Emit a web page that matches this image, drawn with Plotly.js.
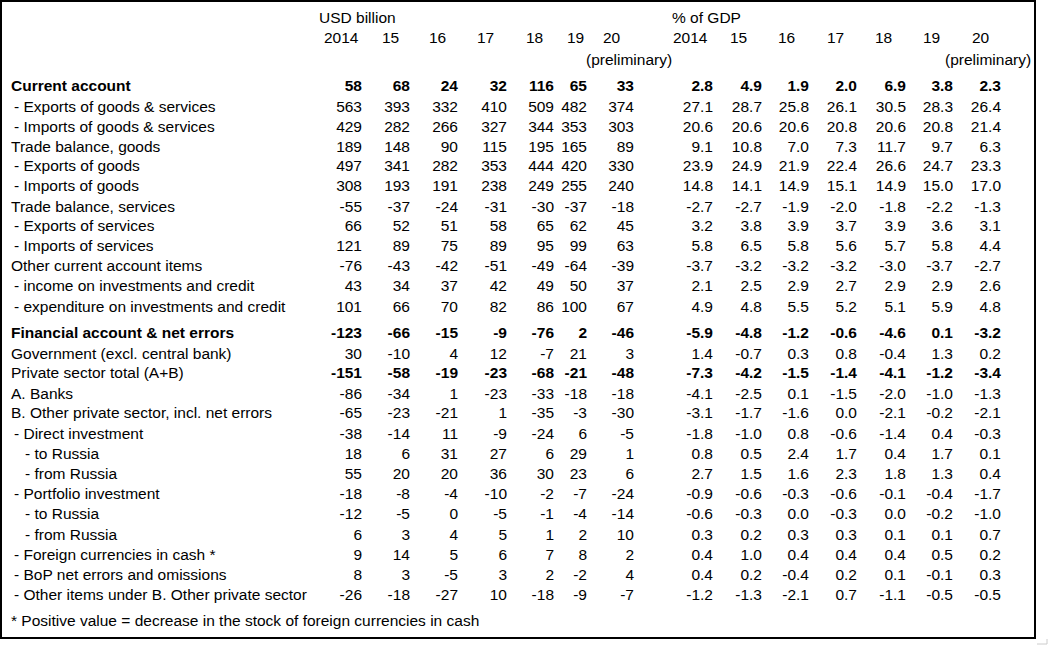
<!DOCTYPE html>
<html>
<head>
<meta charset="utf-8">
<script src="https://cdn.plot.ly/plotly-3.0.1.min.js"></script>
<style>html,body{margin:0;padding:0;background:#fff;}#chart{width:1050px;height:647px;}</style>
</head>
<body>
<div id="chart"></div>
<script>
// ---------- DATA ----------
const labels = [
  "Current account",
  " - Exports of goods & services",
  " - Imports of goods & services",
  "Trade balance, goods",
  " - Exports of goods",
  " - Imports of goods",
  "Trade balance, services",
  " - Exports of services",
  " - Imports of services",
  "Other current account items",
  " - income on investments and credit",
  " - expenditure on investments and credit",
  "Financial account & net errors",
  "Government (excl. central bank)",
  "Private sector total (A+B)",
  "A. Banks",
  "B. Other private sector, incl. net errors",
  " - Direct investment",
  "   - to Russia",
  "   - from Russia",
  " - Portfolio investment",
  "   - to Russia",
  "   - from Russia",
  " - Foreign currencies in cash *",
  " - BoP net errors and omissions",
  " - Other items under B. Other private sector"
];
const boldLabelRows = [0, 12];
const boldValueRows = [0, 12, 14];

const yearLabels = ["2014", "15", "16", "17", "18", "19", "20"];
const unitUSD = "USD billion";
const unitPct = "% of GDP";
const prelimNote = "(preliminary)";
const footnote = "* Positive value = decrease in the stock of foreign currencies in cash";

const usd2014 = [58, 563, 429, 189, 497, 308, -55, 66, 121, -76, 43, 101, -123, 30, -151, -86, -65, -38, 18, 55, -18, -12, 6, 9, 8, -26];
const usd2015 = [68, 393, 282, 148, 341, 193, -37, 52, 89, -43, 34, 66, -66, -10, -58, -34, -23, -14, 6, 20, -8, -5, 3, 14, 3, -18];
const usd2016 = [24, 332, 266, 90, 282, 191, -24, 51, 75, -42, 37, 70, -15, 4, -19, 1, -21, 11, 31, 20, -4, 0, 4, 5, -5, -27];
const usd2017 = [32, 410, 327, 115, 353, 238, -31, 58, 89, -51, 42, 82, -9, 12, -23, -23, 1, -9, 27, 36, -10, -5, 5, 6, 3, 10];
const usd2018 = [116, 509, 344, 195, 444, 249, -30, 65, 95, -49, 49, 86, -76, -7, -68, -33, -35, -24, 6, 30, -2, -1, 1, 7, 2, -18];
const usd2019 = [65, 482, 353, 165, 420, 255, -37, 62, 99, -64, 50, 100, 2, 21, -21, -18, -3, 6, 29, 23, -7, -4, 2, 8, -2, -9];
const usd2020 = [33, 374, 303, 89, 330, 240, -18, 45, 63, -39, 37, 67, -46, 3, -48, -18, -30, -5, 1, 6, -24, -14, 10, 2, 4, -7];

const pct2014 = [2.8, 27.1, 20.6, 9.1, 23.9, 14.8, -2.7, 3.2, 5.8, -3.7, 2.1, 4.9, -5.9, 1.4, -7.3, -4.1, -3.1, -1.8, 0.8, 2.7, -0.9, -0.6, 0.3, 0.4, 0.4, -1.2];
const pct2015 = [4.9, 28.7, 20.6, 10.8, 24.9, 14.1, -2.7, 3.8, 6.5, -3.2, 2.5, 4.8, -4.8, -0.7, -4.2, -2.5, -1.7, -1.0, 0.5, 1.5, -0.6, -0.3, 0.2, 1.0, 0.2, -1.3];
const pct2016 = [1.9, 25.8, 20.6, 7.0, 21.9, 14.9, -1.9, 3.9, 5.8, -3.2, 2.9, 5.5, -1.2, 0.3, -1.5, 0.1, -1.6, 0.8, 2.4, 1.6, -0.3, 0.0, 0.3, 0.4, -0.4, -2.1];
const pct2017 = [2.0, 26.1, 20.8, 7.3, 22.4, 15.1, -2.0, 3.7, 5.6, -3.2, 2.7, 5.2, -0.6, 0.8, -1.4, -1.5, 0.0, -0.6, 1.7, 2.3, -0.6, -0.3, 0.3, 0.4, 0.2, 0.7];
const pct2018 = [6.9, 30.5, 20.6, 11.7, 26.6, 14.9, -1.8, 3.9, 5.7, -3.0, 2.9, 5.1, -4.6, -0.4, -4.1, -2.0, -2.1, -1.4, 0.4, 1.8, -0.1, 0.0, 0.1, 0.4, 0.1, -1.1];
const pct2019 = [3.8, 28.3, 20.8, 9.7, 24.7, 15.0, -2.2, 3.6, 5.8, -3.7, 2.9, 5.9, 0.1, 1.3, -1.2, -1.0, -0.2, 0.4, 1.7, 1.3, -0.4, -0.2, 0.1, 0.5, -0.1, -0.5];
const pct2020 = [2.3, 26.4, 21.4, 6.3, 23.3, 17.0, -1.3, 3.1, 4.4, -2.7, 2.6, 4.8, -3.2, 0.2, -3.4, -1.3, -2.1, -0.3, 0.1, 0.4, -1.7, -1.0, 0.7, 0.2, 0.3, -0.5];

const usdCols = [usd2014, usd2015, usd2016, usd2017, usd2018, usd2019, usd2020];
const pctCols = [pct2014, pct2015, pct2016, pct2017, pct2018, pct2019, pct2020];

// ---------- LAYOUT (positions / styles) ----------
const FONT = "Arial, 'Liberation Sans', sans-serif";
const FS = 15.5;
const rowY = [87, 108, 128, 148, 167, 187, 208, 227, 247, 267, 287, 308, 334, 355, 374, 395, 414, 435, 455, 475, 495, 515, 536, 556, 576, 596];
const footY = 622;
const labelIndentX = [11, 14, 25];
const usdRightX = [362, 410, 458, 507, 554, 587, 634];
const pctRightX = [713, 762, 809, 857, 906, 953, 1001];
const usdHeadLeftX = [324, 382, 429, 477, 526, 567, 603];
const pctHeadLeftX = [673, 730, 778, 827, 875, 923, 972];
const unitY = 19, yearY = 39, prelimY = 61;
const usdUnitX = 319, pctUnitX = 672, usdPrelimX = 586, pctPrelimX = 945;

const traces = [];
const baseText = (x, y, text, pos) => ({
  type: 'scatter', mode: 'text', x: x, y: y, text: text,
  textposition: pos, cliponaxis: false, hoverinfo: 'skip', showlegend: false,
  textfont: {family: FONT, size: FS, color: '#000'}
});

// labels
const lblX = labels.map(l => { const m = l.match(/^ */)[0].length; return labelIndentX[m >= 3 ? 2 : (m >= 1 ? 1 : 0)]; });
const lblText = labels.map((l, i) => { const t = l.trim(); return boldLabelRows.includes(i) ? '<b>' + t + '</b>' : t; });
traces.push(baseText(lblX, rowY, lblText, 'middle right'));

// value columns
const fmt = (v, i, dec) => { const s = dec ? v.toFixed(1) : String(v); return boldValueRows.includes(i) ? '<b>' + s + '</b>' : s; };
usdCols.forEach((col, c) => {
  traces.push(baseText(col.map(() => usdRightX[c]), rowY, col.map((v, i) => fmt(v, i, false)), 'middle left'));
});
pctCols.forEach((col, c) => {
  traces.push(baseText(col.map(() => pctRightX[c]), rowY, col.map((v, i) => fmt(v, i, true)), 'middle left'));
});

// headers
traces.push(baseText([usdUnitX, pctUnitX], [unitY, unitY], [unitUSD, unitPct], 'middle right'));
traces.push(baseText(usdHeadLeftX, usdHeadLeftX.map(() => yearY), yearLabels, 'middle right'));
traces.push(baseText(pctHeadLeftX, pctHeadLeftX.map(() => yearY), yearLabels, 'middle right'));
traces.push(baseText([usdPrelimX, pctPrelimX], [prelimY, prelimY], [prelimNote, prelimNote], 'middle right'));
traces.push(baseText([11], [footY], [footnote], 'middle right'));

const layout = {
  width: 1050, height: 647,
  margin: {l: 0, r: 0, t: 0, b: 0, pad: 0},
  paper_bgcolor: '#fff', plot_bgcolor: '#fff',
  showlegend: false,
  xaxis: {range: [0, 1050], visible: false, fixedrange: true},
  yaxis: {range: [647, 0], visible: false, fixedrange: true},
  shapes: [
    {type: 'rect', xref: 'x', yref: 'y', x0: 1, x1: 1035, y0: 1, y1: 638, line: {color: '#000', width: 2}},
    {type: 'path', xref: 'x', yref: 'y', path: 'M 1037 644 L 1047 644 L 1047 639', line: {color: '#cccccc', width: 1}}
  ]
};

Plotly.newPlot('chart', traces, layout, {staticPlot: true, displayModeBar: false});
</script>
</body>
</html>
